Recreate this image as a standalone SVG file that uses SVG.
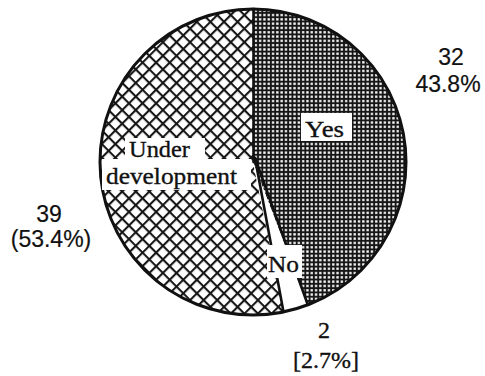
<svg xmlns="http://www.w3.org/2000/svg" width="485" height="376" viewBox="0 0 485 376">
  <style>
    .serif { font-family: "Liberation Serif", "Times New Roman", serif; font-size: 24px; fill: #111; stroke: #111; stroke-width: 0.35; }
    .sans { font-family: "Liberation Sans", Arial, sans-serif; font-size: 23px; fill: #111; stroke: #111; stroke-width: 0.2; }
    .edge { fill: none; stroke: #111; stroke-width: 2.6; stroke-linecap: round; }
    .rim { fill: none; stroke: #111; stroke-width: 3; }
    .knock { fill: #fff; }
  </style>
  <defs>
    <!-- fine dot screen: black ground with white square dots -->
    <pattern id="dots" patternUnits="userSpaceOnUse" width="4.3" height="4.3">
      <rect width="4.3" height="4.3" fill="#161616"/>
      <rect x="1" y="1" width="2.3" height="2.3" fill="#fff"/>
    </pattern>
    <!-- diagonal cross-hatch -->
    <pattern id="hatch" patternUnits="userSpaceOnUse" width="9.6" height="9.6" patternTransform="rotate(45)">
      <rect width="9.6" height="9.6" fill="#fff"/>
      <rect x="0" y="0" width="9.6" height="2.1" fill="#161616"/>
      <rect x="0" y="0" width="2.1" height="9.6" fill="#161616"/>
    </pattern>
  </defs>

  <rect width="485" height="376" fill="#fff"/>

  <!-- pie: centre (253,162), radius 153 -->
  <g id="slice-yes">
    <path d="M253,162 L253,9 A153,153 0 0 1 307.8,304.8 Z" fill="url(#dots)"/>
  </g>
  <g id="slice-under">
    <path d="M253,162 L283.5,311.9 A153,153 0 1 1 253,9 Z" fill="url(#hatch)"/>
  </g>
  <g id="slice-no">
    <path d="M253,162 L307.8,304.8 A153,153 0 0 1 283.5,311.9 Z" fill="#fff"/>
  </g>

  <g id="connectors">
    <line class="edge" x1="253.5" y1="9" x2="253.5" y2="162"/>
    <line class="edge" x1="255" y1="158" x2="307.8" y2="304.8"/>
    <line class="edge" x1="255" y1="158" x2="283.5" y2="311.9"/>
    <circle class="rim" cx="253" cy="162" r="153"/>
  </g>

  <!-- slice labels on knocked-out panels -->
  <g id="label-yes">
    <rect class="knock" x="301" y="113" width="51" height="28"/>
    <text class="serif" x="305" y="137" textLength="39" lengthAdjust="spacingAndGlyphs">Yes</text>
  </g>
  <g id="label-under">
    <rect class="knock" x="125" y="138" width="80" height="22"/>
    <rect class="knock" x="102" y="159" width="149" height="31"/>
    <text class="serif" x="129" y="157" textLength="61" lengthAdjust="spacingAndGlyphs">Under</text>
    <text class="serif" x="106" y="184" textLength="131" lengthAdjust="spacingAndGlyphs">development</text>
  </g>
  <g id="label-no">
    <rect class="knock" x="267" y="245" width="35" height="33"/>
    <text class="serif" x="268" y="272" textLength="31" lengthAdjust="spacingAndGlyphs">No</text>
  </g>

  <!-- counts and shares -->
  <g id="value-yes">
    <text class="sans" x="451" y="65" text-anchor="middle">32</text>
    <text class="sans" x="448" y="92" text-anchor="middle">43.8%</text>
  </g>
  <g id="value-under">
    <text class="sans" x="49" y="222" text-anchor="middle">39</text>
    <text class="sans" x="51" y="247" text-anchor="middle">(53.4%)</text>
  </g>
  <g id="value-no">
    <text class="serif" x="324" y="338" text-anchor="middle">2</text>
    <text class="serif" x="326" y="368" text-anchor="middle">[2.7%]</text>
  </g>
</svg>
